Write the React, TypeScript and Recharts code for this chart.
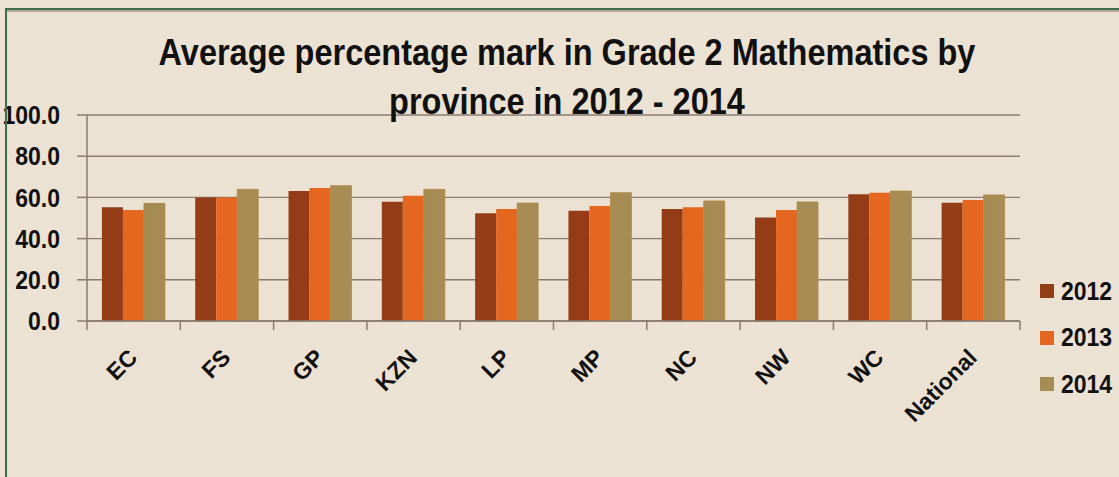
import React from 'react';
import { BarChart, Bar, XAxis, YAxis, CartesianGrid, Legend } from 'recharts';

const provinces = ['EC', 'FS', 'GP', 'KZN', 'LP', 'MP', 'NC', 'NW', 'WC', 'National'];
const marks2012 = [55.2, 59.9, 63.1, 57.9, 52.3, 53.5, 54.4, 50.3, 61.5, 57.4];
const marks2013 = [53.9, 59.9, 64.6, 60.8, 54.4, 55.8, 55.2, 53.9, 62.3, 58.7];
const marks2014 = [57.1, 63.9, 65.7, 63.9, 57.3, 62.3, 58.3, 57.8, 63.1, 61.2];
const yTicks = [0, 20, 40, 60, 80, 100];
const titleLines = ['Average percentage mark in Grade 2 Mathematics by', 'province in 2012 - 2014'];

const chartData = provinces.map((name, i) => ({
  name,
  y2012: marks2012[i],
  y2013: marks2013[i],
  y2014: marks2014[i],
}));

const FONT = '"Liberation Sans", Arial, sans-serif';
const AXIS = '#8a7b70';

// category ticks sit on the band edges, like Excel does
const XTick = (props: any) => {
  const { x, y, payload, index, visibleTicksCount } = props;
  const half = payload?.offset ?? 46.65;
  const last = index === (visibleTicksCount ?? provinces.length) - 1;
  const tx = x + 5;
  const ty = y + 38;
  return (
    <g>
      <line x1={x - half} x2={x - half} y1={y} y2={y + 9} stroke={AXIS} strokeWidth={1.5} />
      {last && <line x1={x + half} x2={x + half} y1={y} y2={y + 9} stroke={AXIS} strokeWidth={1.5} />}
      <text
        x={tx}
        y={ty}
        transform={`rotate(-45 ${tx} ${ty})`}
        textAnchor="end"
        fontFamily={FONT}
        fontWeight="bold"
        fontSize={23}
        fill="#111"
      >
        {payload.value}
      </text>
    </g>
  );
};

const YTick = (props: any) => {
  const { x, y, payload } = props;
  return (
    <text
      x={0}
      y={0}
      transform={`translate(${x} ${y}) scale(1 1.1)`}
      dy="0.36em"
      textAnchor="end"
      fontFamily={FONT}
      fontWeight="bold"
      fontSize={23}
      fill="#111"
    >
      {Number(payload.value).toFixed(1)}
    </text>
  );
};

const LegendContent = (props: any) => {
  const { payload } = props;
  return (
    <div style={{ fontFamily: FONT, fontSize: 23, fontWeight: 'bold', color: '#111' }}>
      {(payload || []).map((entry: any) => (
        <div key={entry.value} style={{ display: 'flex', alignItems: 'center', height: 46.5 }}>
          <svg width={14} height={14} style={{ marginRight: 7 }}>
            <rect width={14} height={14} fill={entry.color} />
          </svg>
          <span style={{ display: 'inline-block', transform: 'scaleY(1.1)' }}>{entry.value}</span>
        </div>
      ))}
    </div>
  );
};

export default function App() {
  return (
    <div
      style={{
        position: 'absolute',
        left: 0,
        top: 0,
        width: 1119,
        height: 477,
        background: '#ece2d3',
        overflow: 'hidden',
      }}
    >
      <svg width={0} height={0} style={{ position: 'absolute' }}>
        <defs>
          <pattern id="weave" width="8" height="8" patternUnits="userSpaceOnUse">
            <rect width="8" height="8" fill="#e4c981" />
            <path
              d="M0 1h4M0 3h4M5 0v4M7 0v4M1 4v4M3 4v4M4 5h4M4 7h4"
              stroke="#5a3f1c"
              strokeWidth="0.9"
            />
          </pattern>
        </defs>
      </svg>
      <BarChart
        width={1119}
        height={477}
        data={chartData}
        margin={{ top: 115, right: 19, bottom: 96, left: 7 }}
        barCategoryGap="16%"
        barGap={0}
      >
        <CartesianGrid vertical={false} stroke={AXIS} strokeWidth={1.4} />
        <XAxis
          dataKey="name"
          height={60}
          axisLine={{ stroke: AXIS, strokeWidth: 1.5 }}
          tickLine={false}
          tickSize={0}
          tickMargin={0}
          interval={0}
          tick={<XTick />}
        />
        <YAxis
          width={80}
          domain={[0, 100]}
          ticks={yTicks}
          interval={0}
          axisLine={{ stroke: AXIS, strokeWidth: 1.5 }}
          tickLine={{ stroke: AXIS, strokeWidth: 1.5 }}
          tickSize={10}
          tickMargin={17}
          tick={<YTick />}
        />
        <Legend
          layout="vertical"
          align="right"
          verticalAlign="middle"
          content={<LegendContent />}
          wrapperStyle={{ left: 1040, top: 268, width: 80 }}
        />
        <Bar dataKey="y2012" name="2012" fill="#933c16" isAnimationActive={false} />
        <Bar dataKey="y2013" name="2013" fill="#e5661e" isAnimationActive={false} />
        <Bar dataKey="y2014" name="2014" fill="url(#weave)" stroke="#b08a45" strokeWidth={0.8} isAnimationActive={false} />
      </BarChart>
      <svg width={1119} height={130} style={{ position: 'absolute', left: 0, top: 0, pointerEvents: 'none' }}>
        {titleLines.map((line, i) => (
          <text
            key={line}
            x={0}
            y={0}
            transform={`translate(567 ${65 + i * 49}) scale(1 1.15)`}
            textAnchor="middle"
            fontFamily={FONT}
            fontWeight="bold"
            fontSize={32.5}
            fill="#111"
          >
            {line}
          </text>
        ))}
      </svg>
      <div
        style={{
          position: 'absolute',
          left: 5,
          top: 8,
          right: -10,
          bottom: -10,
          borderTop: '2px solid #3e6f4c',
          borderLeft: '2px solid #3e6f4c',
          boxShadow: 'inset 0 2px 1px rgba(120,90,70,0.45)',
          pointerEvents: 'none',
        }}
      />
    </div>
  );
}
